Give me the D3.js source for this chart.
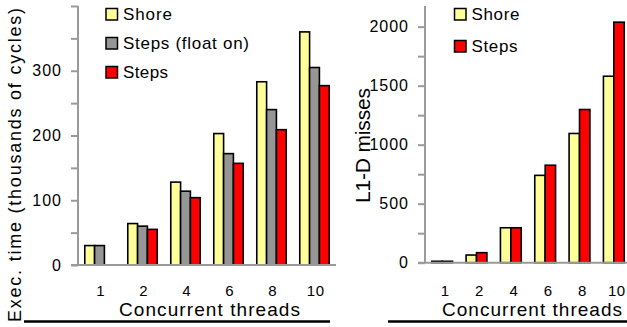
<!DOCTYPE html>
<html>
<head>
<meta charset="utf-8">
<script src="https://cdn.jsdelivr.net/npm/d3@7"></script>
<style>
html,body{margin:0;padding:0;background:#fff;}
svg{display:block;font-family:"Liberation Sans",Arial,sans-serif;}
</style>
</head>
<body>
<svg id="c" width="627" height="327"></svg>
<script>
// ---- data ----
const threads = ["1", "2", "4", "6", "8", "10"];
const leftSeries = ["Shore", "Steps (float on)", "Steps"];
const execShore = [30, 64, 128, 203, 283, 360];
const execFloat = [30, 60, 114, 172, 240, 305];
const execSteps = [null, 55, 104, 157, 209, 277];
const rightSeries = ["Shore", "Steps"];
const missShore = [12, 65, 296, 740, 1095, 1580];
const missSteps = [12, 85, 296, 826, 1298, 2038];
const leftTicks = [0, 100, 200, 300];
const rightTicks = [0, 500, 1000, 1500, 2000];
const leftMinor = [0, 50, 100, 150, 200, 250, 300, 350, 400];
const rightMinor = [0, 250, 500, 750, 1000, 1250, 1500, 1750, 2000];

const colors = {"Shore": "#FFFF99", "Steps (float on)": "#969696", "Steps": "#FF0000"};
const svg = d3.select("#c");
const axisColor = "#9a9a9a";

function panel(opts) {
  const g = svg.append("g");
  const x = d3.scaleBand().domain(threads).range(opts.xr).paddingInner(0).paddingOuter(0);
  const xi = d3.scaleBand().domain(opts.series).range([0, x.bandwidth()]).paddingInner(0).paddingOuter(opts.pad);
  const y = d3.scaleLinear().domain([0, opts.ymax]).range([opts.y0, 6]);

  // bars
  opts.series.forEach((s, si) => {
    const vals = opts.values[si];
    g.selectAll(null).data(threads.map((t, i) => ({t, v: vals[i]})).filter(d => d.v != null))
      .enter().append("rect")
      .attr("x", d => x(d.t) + xi(s))
      .attr("width", xi.bandwidth())
      .attr("y", d => y(d.v))
      .attr("height", d => y(0) - y(d.v))
      .attr("fill", colors[s])
      .attr("stroke", "#000")
      .attr("stroke-width", 1.6);
  });

  // y axis (minor ticks without labels)
  const yAxis = d3.axisLeft(y).tickValues(opts.minor).tickSize(7).tickFormat("");
  const ya = g.append("g").attr("transform", `translate(${opts.xr[0]},0)`).call(yAxis);
  ya.select(".domain").attr("d", `M0,6V${opts.y0}`);
  ya.selectAll("path,line").attr("stroke", axisColor).attr("stroke-width", 2);
  // labels
  g.selectAll(null).data(opts.ticks).enter().append("text")
    .attr("x", opts.xr[0] - 16).attr("y", d => y(d) + 5.6)
    .attr("text-anchor", "end").attr("font-size", 16).attr("letter-spacing", 1)
    .attr("fill", "#000").text(d => d);

  // x axis
  g.append("line").attr("x1", opts.xr[0] - 7).attr("x2", opts.xr[1])
    .attr("y1", opts.y0).attr("y2", opts.y0)
    .attr("stroke", axisColor).attr("stroke-width", 2);
  g.selectAll(null).data(threads).enter().append("text")
    .attr("x", d => x(d) + x.bandwidth() / 2 + opts.lblShift)
    .attr("y", 296)
    .attr("text-anchor", "middle").attr("font-size", 15).attr("letter-spacing", 0.5)
    .text(d => d);
  g.append("text").attr("x", opts.xt[0]).attr("y", 315.5)
    .attr("font-size", 19).attr("textLength", opts.xt[1]).attr("lengthAdjust", "spacing")
    .text("Concurrent threads");

  // y title
  g.append("text")
    .attr("transform", `translate(${opts.yt[0]},${opts.yt[1]}) rotate(-90)`)
    .attr("text-anchor", "middle").attr("font-size", opts.yt[3])
    .attr("textLength", opts.yt[2]).attr("lengthAdjust", "spacing")
    .text(opts.ytitle);

  // underline
  g.append("line").attr("x1", opts.ul[0]).attr("x2", opts.ul[1])
    .attr("y1", 321.5).attr("y2", 321.5).attr("stroke", "#000").attr("stroke-width", 2.5);

  // legend
  opts.series.forEach((s, i) => {
    const cy = 14 + i * opts.legStep;
    g.append("rect").attr("x", opts.leg).attr("y", cy - 5.5).attr("width", 11.5).attr("height", 11.5)
      .attr("fill", colors[s]).attr("stroke", "#000").attr("stroke-width", 1.5);
    g.append("text").attr("x", opts.leg + 17).attr("y", cy + 6.2)
      .attr("font-size", 17).attr("textLength", opts.legW[i]).attr("lengthAdjust", "spacing")
      .text(s);
  });
}

panel({
  xr: [78, 336], y0: 265, ymax: 400, pad: 0.69,
  series: leftSeries, values: [execShore, execFloat, execSteps],
  ticks: leftTicks, minor: leftMinor, lblShift: 1.2,
  xt: [119, 181], yt: [21, 165, 314, 18], ytitle: "Exec. time (thousands of cycles)",
  ul: [24, 330], leg: 106, legStep: 29, legW: [49, 126, 45]
});
panel({
  xr: [425, 631], y0: 262.7, ymax: 2175, pad: 0.65,
  series: rightSeries, values: [missShore, missSteps],
  ticks: rightTicks, minor: rightMinor, lblShift: 3,
  xt: [442, 180], yt: [370, 145.5, 115, 21], ytitle: "L1-D misses",
  ul: [388, 627], leg: 454.5, legStep: 32, legW: [48, 46]
});
</script>
</body>
</html>
